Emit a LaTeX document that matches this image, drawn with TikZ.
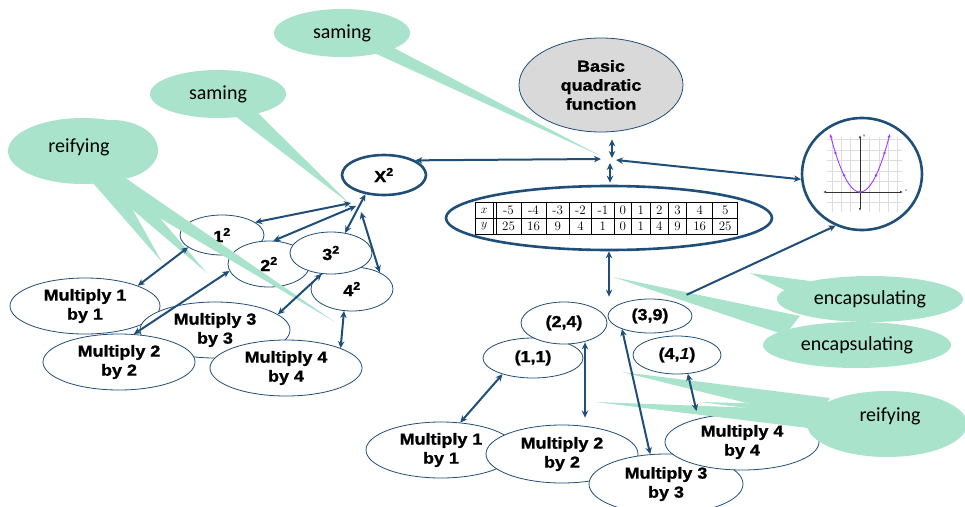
\documentclass[tikz,border=0pt]{standalone}
\usepackage{fontspec}
\newfontfamily\bsans{Liberation Sans}[FakeStretch=1.12,BoldFeatures={FakeBold=1.3}]
\newfontfamily\calib{Carlito}
\usetikzlibrary{shapes.geometric,arrows.meta,calc}
\definecolor{dblue}{RGB}{31,78,121}
\definecolor{cgreen}{RGB}{169,227,204}
\definecolor{bgrey}{RGB}{217,217,217}
\definecolor{purp}{RGB}{160,60,255}
\begin{document}
\begin{tikzpicture}[x=1pt,y=-1pt,
 el/.style={ellipse,draw=dblue,line width=0.8pt,fill=white,inner sep=0pt,align=center,
   font=\bsans\bfseries\fontsize{16}{19}\selectfont},
 thickel/.style={el,line width=2.6pt},
 tip/.tip={Stealth[length=7pt,width=6.5pt]},
 dbl/.style={draw=dblue,line width=2pt,tip-tip},
 sgl/.style={draw=dblue,line width=2pt,-tip},
 btext/.style={font=\calib\fontsize{20}{24}\selectfont,inner sep=0pt},
 tabtxt/.style={font=\fontsize{13}{13}\selectfont,inner sep=0pt},
 gridc/.style={draw=black!13,line width=0.4pt}
]
\useasboundingbox (0,0) rectangle (965,506);

% ---------- left cluster ----------
\node[el,minimum width=150pt,minimum height=56pt] (M1L) at (85,306) {Multiply 1\\by 1};
\node[el,minimum width=150pt,minimum height=56pt] (M3L) at (215,330) {Multiply 3\\by 3};
\node[el,minimum width=152pt,minimum height=56pt] (M2L) at (119,362) {Multiply 2\\by 2};
\node[el,minimum width=152pt,minimum height=56pt] (M4L) at (286,368) {Multiply 4\\by 4};
\node[el,minimum width=84pt,minimum height=40pt] (s1) at (222,235) {1\textsuperscript{2}};
\node[el,minimum width=82pt,minimum height=46pt] (s2) at (269,264) {2\textsuperscript{2}};
\node[el,minimum width=82pt,minimum height=44pt] (s4) at (352,289) {4\textsuperscript{2}};
\node[el,minimum width=82pt,minimum height=42pt] (s3) at (331,253) {3\textsuperscript{2}};
\node[thickel,minimum width=84pt,minimum height=40pt] (X) at (384,175) {X\textsuperscript{2}};

% ---------- centre ----------
\node[el,fill=bgrey,minimum width=164pt,minimum height=94pt] (bqf) at (601,85) {Basic\\quadratic\\function};
\node[thickel,minimum width=326pt,minimum height=64pt] (tab) at (609,218) {};
\node[thickel,minimum width=120pt,minimum height=112pt] (graph) at (862,174) {};

% table
\draw[black,line width=0.6pt] (475,202.5) rectangle (737.7,234);
\draw[black,line width=0.6pt] (475,218) -- (737.7,218);
\foreach \cx in {493.3,496,521,546,569.3,591.7,614,631.7,650,668.3,686.7,712.7}
  \draw[black,line width=0.6pt] (\cx,202.5) -- (\cx,234);
\node[tabtxt] (tx0) at (484.2,210.5) {$x$};
\node[tabtxt] (ty0) at (484.2,226.2) {$y$};
\foreach \cx/\a/\b [count=\i] in {508.5/-5/25,533.5/-4/16,557.7/-3/9,580.5/-2/4,602.9/-1/1,622.9/0/0,640.9/1/1,659.2/2/4,677.5/3/9,699.7/4/16,725.2/5/25}{
  \node[tabtxt] (tx\i) at (\cx,210.5) {\a};
  \node[tabtxt] (ty\i) at (\cx,226.2) {\b};
}

% graph inside circle
\foreach \gx in {831.8,841.2,850.6,869.4,878.8,888.2,897.6}
  \draw[gridc] (\gx,137) -- (\gx,212);
\foreach \gy in {139.5,150,160.5,171,181.5,202.5}
  \draw[gridc] (827,\gy) -- (902,\gy);
\draw[black!80,line width=0.7pt,{Latex[length=3pt]}-{Latex[length=3pt]}] (823,192) -- (903,192);
\draw[black!80,line width=0.7pt,{Latex[length=3pt]}-{Latex[length=3pt]}] (860,135) -- (860,211);
\node[font=\fontsize{4}{4}\selectfont\itshape,inner sep=0pt] (gxl) at (906,191) {x};
\node[font=\fontsize{4}{4}\selectfont\itshape,inner sep=0pt] (gyl) at (864,136) {y};
\draw[purp,line width=0.9pt,{Latex[length=4pt]}-{Latex[length=4pt]}] plot[domain=-30:30,samples=41] ({860+\x},{192-0.065*\x*\x});
\foreach \dx in {-24.5,-16,0,16,24.5}
  \fill[purp] ({860+\dx},{192-0.065*\dx*\dx}) circle (1.4pt);

% ---------- right bottom ----------
\node[el,minimum width=150pt,minimum height=56pt] (M1R) at (441,450) {Multiply 1\\by 1};
\node[el,minimum width=152pt,minimum height=58pt] (M2R) at (562,454) {Multiply 2\\by 2};
\node[el,minimum width=154pt,minimum height=60pt] (M3R) at (666,484) {Multiply 3\\by 3};
\node[el,minimum width=154pt,minimum height=56pt] (M4R) at (742,442) {Multiply 4\\by 4};
\node[el,minimum width=100pt,minimum height=40pt] (p11) at (533,358) {(1,1)};
\node[el,minimum width=86pt,minimum height=42pt] (p24) at (564,323) {(2,4)};
\node[el,minimum width=84pt,minimum height=34pt] (p39) at (650,316) {(3,9)};
\node[el,minimum width=88pt,minimum height=38pt] (p41) at (677,355) {(4,\textit{1})};

% ---------- callout bubbles ----------
\fill[cgreen] (342,33) ellipse [x radius=68pt,y radius=24pt];
\fill[cgreen] (372,52) -- (603,157) -- (392,47) -- cycle;
\fill[cgreen] (218,94) ellipse [x radius=68pt,y radius=24pt];
\fill[cgreen] (235,116) -- (350,204) -- (257,112) -- cycle;
\fill[cgreen] (83,151) ellipse [x radius=75pt,y radius=33pt];
\fill[cgreen] (112,150) ellipse [x radius=46pt,y radius=30pt];
\fill[cgreen] (93,183) -- (162,262) -- (117,182) -- cycle;
\fill[cgreen] (100,182) -- (207,273) -- (129,182) -- cycle;
\fill[cgreen] (99,182) -- (335,322) -- (121,175) -- cycle;
\fill[cgreen] (870,299) ellipse [x radius=93pt,y radius=23pt];
\fill[cgreen] (810,281) -- (750,273) -- (790,293) -- cycle;
\fill[cgreen] (857,345) ellipse [x radius=94pt,y radius=23pt];
\fill[cgreen] (800,316) -- (613,277) -- (785,335) -- cycle;
\fill[cgreen] (887,424) ellipse [x radius=80pt,y radius=33pt];
\fill[cgreen] (830,398) -- (622,372) -- (815,420) -- cycle;
\fill[cgreen] (812,410) -- (595,402) -- (808,428) -- cycle;
\fill[cgreen] (812,405) -- (700,402) -- (810,416) -- cycle;

% ---------- connectors ----------
\coordinate (xf1) at (351,203);
\coordinate (xf2) at (356,206);
\coordinate (xf4) at (361,212);
\draw[dbl] (s1.21) -- (xf1);
\draw[dbl] (s2.79) -- (xf2);
\draw[dbl] (s3.55) -- (X.226);
\draw[dbl] (s4.31) -- (xf4);
\draw[dbl] (s1.200) -- (M1L.21);
\draw[dbl] (s2.190) -- (M2L.62);
\draw[dbl] (s3.246) -- (M3L.14);
\draw[dbl] (s4.250) -- (M4L.20);

\coordinate (hubN) at (612,158);
\coordinate (hubS) at (610,163);
\coordinate (hubW) at (601,159);
\coordinate (hubE) at (616,160);
\draw[dbl,shorten >=7pt] (hubN) -- (bqf.south -| hubN);
\draw[dbl,shorten >=2pt] (hubS) -- (tab.north -| hubS);
\draw[dbl] (X.25) -- (hubW);
\draw[dbl] (hubE) -- (graph.185);
\draw[dbl] (tab.south) -- ($(tab.south |- p39.north)+(0,-2)$);
\draw[sgl] ($(p39.30)+(12,-7)$) -- (graph.243);

\draw[dbl] (p11.208) -- (M1R.55);
\draw[dbl] ($(p24.south)+(21,-2)$) -- ($(M2R.north)+(23,-7)$);
\draw[dbl] (p39.205) -- (M3R.118);
\draw[dbl] (p41.300) -- ($(M4R.150)+(-4,-7)$);

% ---------- callout texts ----------
\node[btext] (t1) at (342,33) {saming};
\node[btext] (t2) at (218,94) {saming};
\node[btext] (t3) at (79,147) {reifying};
\node[btext] (t4) at (870,299) {encapsulating};
\node[btext] (t5) at (857,345) {encapsulating};
\node[btext] (t6) at (890,416) {reifying};
\end{tikzpicture}
\end{document}
